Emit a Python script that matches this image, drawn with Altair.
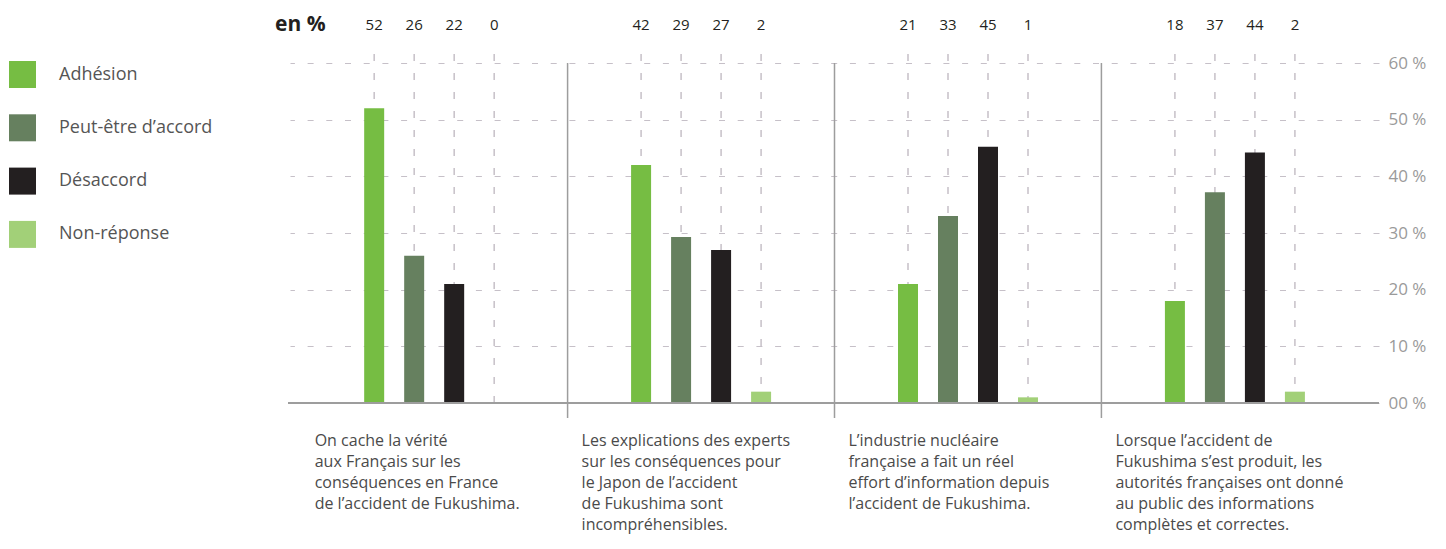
import altair as alt
import pandas as pd

groups = ["g1", "g2", "g3", "g4"]
categories = ["Adhésion", "Peut-être d’accord", "Désaccord", "Non-réponse"]
colors = ["#76bd43", "#66805f", "#231f20", "#a2d078"]
label_values = [[52, 26, 22, 0], [42, 29, 27, 2], [21, 33, 45, 1], [18, 37, 44, 2]]
bar_values = [[52, 26, 21, 0], [42, 29.3, 27, 2], [21, 33, 45.2, 1], [18, 37.2, 44.2, 2]]
descriptions = [
    "On cache la vérité\naux Français sur les\nconséquences en France\nde l’accident de Fukushima.",
    "Les explications des experts\nsur les conséquences pour\nle Japon de l’accident\nde Fukushima sont\nincompréhensibles.",
    "L’industrie nucléaire\nfrançaise a fait un réel\neffort d’information depuis\nl’accident de Fukushima.",
    "Lorsque l’accident de\nFukushima s’est produit, les\nautorités françaises ont donné\nau public des informations\ncomplètes et correctes.",
]
y_ticks = [0, 10, 20, 30, 40, 50, 60]

FONT = "Open Sans"
W, H = 1089, 340

rows = []
for gi, g in enumerate(groups):
    for ci, c in enumerate(categories):
        rows.append({"group": g, "cat": c, "bar": bar_values[gi][ci], "label": label_values[gi][ci]})
df = pd.DataFrame(rows)
df_text = pd.DataFrame({"group": groups, "desc": descriptions})
df_sep = pd.DataFrame({"group": groups[1:]})
df_one = pd.DataFrame({"t": ["en %"]})

xscale = alt.Scale(domain=groups, paddingInner=0, paddingOuter=0.04)
xoff = alt.XOffset("cat:N", scale=alt.Scale(domain=categories, range=[53.5, 213.5],
                                            paddingInner=0.5, paddingOuter=0.25))
yscale = alt.Scale(domain=[0, 60], nice=False, zero=True)

def X(**kw):
    return alt.X("group:N", scale=xscale, axis=None, **kw)

vdash = alt.Chart(df).mark_rule(color="#c6c0c8", strokeWidth=1.5, strokeDash=[7, 12]).encode(
    x=X(), xOffset=xoff, y=alt.datum(0), y2=alt.value(-16)
)

bars = alt.Chart(df).mark_bar().encode(
    x=X(),
    xOffset=xoff,
    y=alt.Y(
        "bar:Q",
        scale=yscale,
        axis=alt.Axis(
            orient="right", values=y_ticks, title=None, domain=False, ticks=False,
            labelExpr="datum.value == 0 ? '00 %' : datum.value + ' %'",
            labelPadding=9, labelFont=FONT, labelFontSize=17, labelColor="#9a9a9a",
            grid=True, gridDash=[6, 12.7], gridColor="#c6c0c8", gridWidth=1.2,
        ),
    ),
    color=alt.Color(
        "cat:N",
        scale=alt.Scale(domain=categories, range=colors),
        legend=alt.Legend(
            orient="none", legendX=-281, legendY=-2, title=None,
            symbolType="square", symbolSize=729, symbolStrokeWidth=0,
            labelFont=FONT, labelFontSize=18, labelColor="#555555",
            labelOffset=23, rowPadding=26.3,
        ),
    ),
)

top_labels = alt.Chart(df).mark_text(font=FONT, fontSize=15, color="#231f20", baseline="middle").encode(
    x=X(), xOffset=xoff, y=alt.value(-38), text="label:Q"
)

seps = alt.Chart(df_sep).mark_rule(color="#9d9d9d", strokeWidth=1.5).encode(
    x=X(bandPosition=0), y=alt.value(0), y2=alt.value(355)
)

baseline = alt.Chart(df_one).mark_rule(color="#9d9d9d", strokeWidth=2).encode(
    x=alt.value(-2), x2=alt.value(W), y=alt.datum(0)
)

desc = alt.Chart(df_text).mark_text(
    font=FONT, fontSize=16, color="#4a4a4a", align="left", baseline="alphabetic",
    lineBreak="\n", lineHeight=21, dx=14,
).encode(x=X(bandPosition=0), y=alt.value(383), text="desc:N")

title = alt.Chart(df_one).mark_text(
    font=FONT, fontSize=21, fontWeight="bold", color="#231f20", align="left", baseline="middle"
).encode(x=alt.value(-15), y=alt.value(-38), text="t:N")

chart = alt.layer(vdash, bars, seps, baseline, top_labels, desc, title).properties(
    width=W, height=H,
    background="white",
    autosize=alt.AutoSizeParams(type="none"),
    padding={"left": 282, "top": 55, "right": 57, "bottom": 138},
).configure_view(stroke=None)

chart.save("out.html", embed_options={"renderer": "svg", "actions": False})
